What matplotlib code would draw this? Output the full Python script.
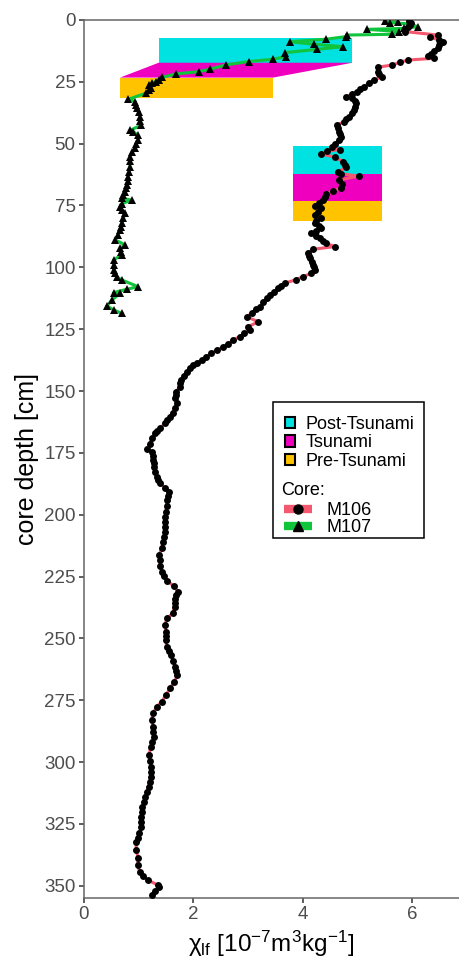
import matplotlib
matplotlib.use("Agg")
import matplotlib.pyplot as plt
from matplotlib.patches import Patch, Polygon, Rectangle
from matplotlib.lines import Line2D

# ── Magnetic susceptibility profiles ─────────────────────────
m106_depth = [
    0.5, 1.3, 2.0, 2.7, 3.5, 4.7, 6.1, 7.0, 8.1, 9.1, 10.2, 11.5, 12.4, 13.7,
    14.5, 15.5, 16.2, 17.1, 18.2, 19.1, 20.9, 21.8, 22.9, 24.3, 25.5, 27.0,
    28.0, 29.0, 30.0, 31.0, 31.7, 32.7, 33.7, 35.0, 36.4, 37.8, 39.1, 40.1,
    41.1, 42.5, 43.8, 45.2, 46.2, 47.2, 48.5, 50.0, 51.2, 52.4, 53.0, 54.2,
    55.5, 57.3, 58.5, 59.6, 61.3, 62.2, 63.1, 64.7, 66.3, 68.0, 69.1, 70.4,
    71.5, 72.8, 74.0, 75.2, 76.2, 77.5, 78.8, 80.2, 81.2, 82.2, 83.2, 84.2,
    85.2, 86.2, 87.2, 88.2, 89.3, 90.3, 91.6, 92.7, 94.3, 95.4, 96.4, 97.7,
    99.0, 100.0, 101.0, 102.4, 103.8, 105.0, 106.4, 107.5, 108.5, 110.0,
    111.2, 112.5, 113.9, 115.9, 117.0, 118.4, 120.0, 122.0, 124.0, 125.3,
    126.7, 128.0, 129.4, 130.8, 132.1, 133.4, 134.7, 136.1, 137.5, 138.5,
    139.5, 140.8, 142.2, 143.8, 145.5, 146.8, 148.2, 150.3, 151.6, 153.0,
    155.0, 157.0, 158.7, 160.4, 161.7, 163.0, 165.1, 166.1, 167.1, 169.1,
    171.3, 173.5, 174.8, 176.4, 177.9, 179.2, 180.6, 182.6, 184.6, 186.0,
    187.3, 189.0, 190.8, 192.5, 194.2, 196.5, 198.7, 200.8, 202.8, 204.8,
    206.8, 208.9, 210.9, 213.5, 216.2, 218.5, 220.7, 223.0, 224.8, 226.7,
    228.8, 231.1, 232.6, 234.2, 235.7, 237.2, 239.9, 241.9, 244.6, 247.4,
    249.0, 250.7, 253.4, 255.0, 256.8, 259.0, 261.4, 263.2, 264.9, 267.6,
    270.2, 272.9, 275.6, 277.6, 280.3, 283.0, 285.7, 287.7, 289.8, 291.8,
    293.8, 297.2, 299.5, 301.9, 303.9, 305.9, 308.0, 310.0, 312.0, 314.0,
    316.0, 318.0, 320.0, 322.1, 324.1, 326.1, 328.8, 330.5, 332.2, 335.6,
    338.9, 341.6, 344.3, 346.0, 347.7, 349.7, 350.5, 352.0, 353.8,
]
m106_chi = [
    5.95, 5.99, 5.96, 5.93, 5.88, 5.87, 6.47, 6.33, 6.50, 6.56, 6.50, 6.47, 6.41, 6.35,
    6.29, 6.41, 5.93, 5.78, 5.64, 5.38, 5.37, 5.40, 5.46, 5.30, 5.22, 5.12,
    5.05, 5.00, 4.90, 4.80, 4.90, 4.95, 4.97, 4.96, 4.94, 4.90, 4.85, 4.80,
    4.76, 4.63, 4.64, 4.66, 4.68, 4.70, 4.66, 4.60, 4.53, 4.68, 4.45, 4.34,
    4.60, 4.74, 4.78, 4.80, 4.65, 4.70, 5.03, 4.67, 4.72, 4.70, 4.55, 4.43,
    4.40, 4.37, 4.30, 4.22, 4.33, 4.28, 4.23, 4.34, 4.25, 4.23, 4.30, 4.34,
    4.25, 4.16, 4.25, 4.31, 4.38, 4.43, 4.59, 4.19, 4.10, 4.12, 4.13, 4.17,
    4.19, 4.21, 4.22, 4.16, 4.00, 3.88, 3.67, 3.60, 3.55, 3.47,
    3.40, 3.34, 3.28, 3.22, 3.15, 3.07, 2.98, 3.19, 3.00, 3.03,
    2.93, 2.85, 2.73, 2.64, 2.55, 2.44, 2.33, 2.24, 2.15, 2.07,
    2.00, 1.94, 1.88, 1.83, 1.78, 1.76, 1.75, 1.69, 1.68, 1.66,
    1.71, 1.66, 1.62, 1.57, 1.52, 1.48, 1.39, 1.34, 1.30, 1.24,
    1.20, 1.15, 1.24, 1.26, 1.27, 1.28, 1.28, 1.30, 1.33, 1.36,
    1.39, 1.48, 1.56, 1.54, 1.52, 1.51, 1.50, 1.49, 1.48, 1.48,
    1.48, 1.46, 1.45, 1.42, 1.38, 1.39, 1.39, 1.42, 1.47, 1.52,
    1.64, 1.72, 1.69, 1.66, 1.66, 1.66, 1.62, 1.52, 1.48, 1.50,
    1.50, 1.50, 1.51, 1.55, 1.60, 1.63, 1.66, 1.69, 1.71, 1.65,
    1.57, 1.50, 1.42, 1.33, 1.26, 1.24, 1.26, 1.27, 1.28, 1.25,
    1.22, 1.19, 1.21, 1.23, 1.22, 1.22, 1.20, 1.18, 1.15, 1.12,
    1.10, 1.07, 1.06, 1.05, 1.05, 1.05, 1.01, 0.98, 0.95, 0.96,
    0.99, 0.98, 1.02, 1.08, 1.17, 1.35, 1.38, 1.30, 1.24,
]

m107_depth = [
    0.3, 0.8, 1.1, 1.6, 2.7, 3.4, 3.8, 4.7, 5.8, 6.1, 6.7, 7.8, 8.8, 9.8,
    10.8, 11.9, 13.2, 14.8, 15.9, 16.8, 18.2, 19.9, 20.9, 21.8, 23.2, 24.1,
    24.9, 25.6, 26.3, 27.6, 28.5, 29.6, 32.1, 33.0, 34.3, 35.7, 37.4, 39.1,
    40.8, 42.5, 44.5, 45.1, 46.5, 48.5, 50.2, 51.9, 53.5, 55.2, 57.2, 59.3,
    61.3, 63.3, 65.0, 66.7, 68.0, 69.4, 70.8, 72.1, 72.8, 74.2, 75.5, 76.8,
    78.2, 80.2, 82.2, 83.5, 84.9, 86.9, 88.9, 90.9, 92.3, 93.6, 95.0, 97.0,
    99.0, 101.0, 102.4, 103.8, 105.1, 107.8, 108.9, 110.2, 110.5, 113.2,
    115.6, 117.2, 118.6,
]
m107_chi = [
    5.50, 5.75, 5.60, 5.95, 6.11, 5.85, 5.18, 5.77, 5.63, 4.81, 4.80, 4.42, 3.76, 4.20,
    4.74, 4.26, 3.68, 3.70, 3.45, 3.01, 2.59, 2.31, 2.10, 1.69, 1.43, 1.37,
    1.31, 1.24, 1.19, 1.22, 1.18, 1.13, 0.81, 0.94, 0.95, 0.97, 1.00, 1.02,
    1.03, 1.05, 0.85, 0.90, 0.98, 0.99, 0.96, 0.93, 0.88, 0.84, 0.84, 0.84,
    0.83, 0.81, 0.80, 0.78, 0.77, 0.75, 0.72, 0.69, 0.87, 0.70, 0.66, 0.70,
    0.75, 0.72, 0.69, 0.68, 0.66, 0.62, 0.57, 0.75, 0.66, 0.68, 0.69, 0.54,
    0.55, 0.54, 0.57, 0.60, 0.69, 0.99, 0.78, 0.54, 0.66, 0.51,
    0.42, 0.54, 0.69,
]

# ── Event layers (depth bounds in cm, chi range of the shading) ──
zone_names = ["Post-Tsunami", "Tsunami", "Pre-Tsunami"]
m107_post = (7.4, 17.3)
m107_pre = (23.3, 31.7)
m107_post_chi = (1.365, 4.91)
m107_pre_chi = (0.66, 3.46)
m106_bounds = [51.0, 62.1, 73.2, 81.1]
m106_chi_range = (3.815, 5.45)

# ── Style ────────────────────────────────────────────────────
COLORS = {
    "Post-Tsunami": "#00E1E1",
    "Tsunami":      "#EE00BE",
    "Pre-Tsunami":  "#FFC300",
    "M106":         "#F4586E",
    "M107":         "#10C43C",
}
GREY = "#4D4D4D"

plt.rcParams.update({
    "font.family": ["Liberation Sans", "DejaVu Sans"],
    "mathtext.fontset": "custom",
    "mathtext.rm": "Liberation Sans",
    "mathtext.it": "Liberation Sans:italic",
    "mathtext.default": "regular",
})

fig = plt.figure(figsize=(4.59, 9.64), dpi=100)
ax = fig.add_axes([0.183, 0.0688, 0.817, 0.9105])

# shaded intervals, M107 (the tsunami layer is the wedge between the two boxes)
ax.add_patch(Rectangle((m107_post_chi[0], m107_post[0]),
                       m107_post_chi[1] - m107_post_chi[0], m107_post[1] - m107_post[0],
                       facecolor=COLORS["Post-Tsunami"], edgecolor="none", zorder=1))
ax.add_patch(Polygon([(m107_post_chi[0], m107_post[1]), (m107_post_chi[1], m107_post[1]),
                      (m107_pre_chi[1], m107_pre[0]), (m107_pre_chi[0], m107_pre[0])],
                     closed=True, facecolor=COLORS["Tsunami"], edgecolor="none", zorder=1))
ax.add_patch(Rectangle((m107_pre_chi[0], m107_pre[0]),
                       m107_pre_chi[1] - m107_pre_chi[0], m107_pre[1] - m107_pre[0],
                       facecolor=COLORS["Pre-Tsunami"], edgecolor="none", zorder=1))

# shaded intervals, M106
for name, top, bot in zip(zone_names, m106_bounds[:-1], m106_bounds[1:]):
    ax.add_patch(Rectangle((m106_chi_range[0], top), m106_chi_range[1] - m106_chi_range[0],
                           bot - top, facecolor=COLORS[name], edgecolor="none", zorder=1))

# profiles
ax.plot(m106_chi, m106_depth, color=COLORS["M106"], lw=2.2, zorder=2)
ax.plot(m107_chi, m107_depth, color=COLORS["M107"], lw=2.2, zorder=2)
ax.plot(m106_chi, m106_depth, "o", color="black", ms=5.0, mew=0, zorder=3)
ax.plot(m107_chi, m107_depth, "^", color="black", ms=5.6, mew=0, zorder=3)

ax.set_xlim(0, 6.86)
ax.set_ylim(354.8, 0)
ax.set_xticks([0, 2, 4, 6])
ax.set_yticks(range(0, 351, 25))

for side in ["left", "bottom", "top"]:
    ax.spines[side].set_color("#666666")
    ax.spines[side].set_linewidth(1.1)
ax.spines["right"].set_visible(False)
ax.tick_params(axis="both", colors="#333333", labelcolor=GREY, labelsize=13.5,
               length=3.5, width=1.1, pad=2.5)

ax.set_ylabel("core depth [cm]", fontsize=18, labelpad=4)
ax.set_xlabel(r"$\chi_{lf}$ [10$^{-7}$m$^3$kg$^{-1}$]", fontsize=17.5, labelpad=4)

# legend: zone block, "Core:" heading and core block inside one frame
zone_handles = [Patch(facecolor=COLORS[n], edgecolor="black", linewidth=1.5) for n in zone_names]
leg1 = ax.legend(zone_handles, zone_names, loc="upper left", bbox_to_anchor=(0.536, 0.549),
                 frameon=False, fontsize=13, handlelength=0.55, handleheight=0.6,
                 handletextpad=0.6, labelspacing=0.09, borderpad=0, borderaxespad=0)
ax.add_artist(leg1)

ax.text(0.527, 0.4635, "Core:", transform=ax.transAxes, fontsize=13, va="center", ha="left")

core_handles = [
    Line2D([], [], color=COLORS["M106"], lw=6, solid_capstyle="butt",
           marker="o", mfc="black", mec="black", ms=6.5),
    Line2D([], [], color=COLORS["M107"], lw=6, solid_capstyle="butt",
           marker="^", mfc="black", mec="black", ms=7),
]
ax.legend(core_handles, ["M106", "M107"], loc="upper left", bbox_to_anchor=(0.533, 0.451),
          frameon=False, fontsize=13, handlelength=1.55, handletextpad=0.8,
          labelspacing=0.0, borderpad=0, borderaxespad=0)

ax.add_patch(Rectangle((0.505, 0.410), 0.402, 0.155, transform=ax.transAxes, fill=False,
                       edgecolor="black", linewidth=1.1, zorder=5, clip_on=False))

fig.savefig("out.png", dpi=100)
plt.close(fig)
